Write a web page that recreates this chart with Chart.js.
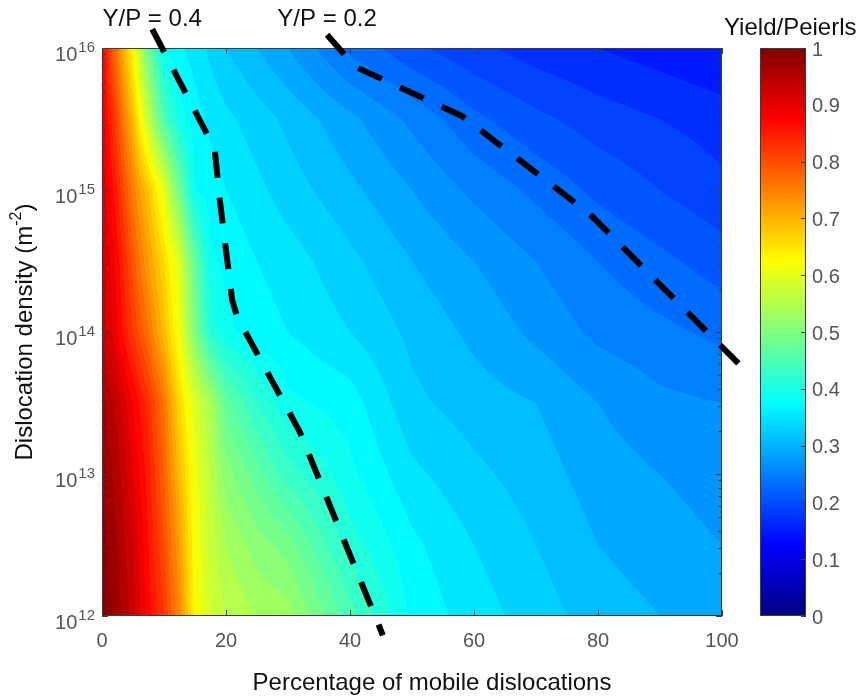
<!DOCTYPE html>
<html>
<head>
<meta charset="utf-8">
<script src="https://cdn.jsdelivr.net/npm/chart.js@4.4.1/dist/chart.umd.min.js"></script>
<style>
  html, body { margin: 0; padding: 0; background: #fff; }
  #wrap { width: 861px; height: 700px; }
</style>
</head>
<body>
<div id="wrap"><canvas id="contour" width="861" height="700"></canvas></div>
<script>
// grid columns: percentage of mobile dislocations
const percentMobile = [0, 2.5, 5, 7.5, 10, 12.5, 15, 17.5, 20, 25, 30, 40, 50, 60, 70, 80, 90, 100];
// grid rows: dislocation density (m^-2)
const densityRows = [1e12, 3.16e12, 1e13, 3.16e13, 1e14, 3.16e14, 1e15, 3.16e15, 1e16];

// Yield/Peierls ratio, one row per density
const ratioAt1e12   = [1.00, 0.97, 0.93, 0.87, 0.82, 0.74, 0.63, 0.58, 0.56, 0.54, 0.53, 0.45, 0.375, 0.35, 0.33, 0.31, 0.30, 0.295];
const ratioAt3e12   = [0.99, 0.96, 0.92, 0.86, 0.80, 0.72, 0.62, 0.57, 0.54, 0.51, 0.49, 0.41, 0.365, 0.34, 0.32, 0.30, 0.29, 0.28];
const ratioAt1e13   = [0.98, 0.95, 0.90, 0.85, 0.78, 0.69, 0.61, 0.56, 0.51, 0.47, 0.43, 0.385, 0.345, 0.325, 0.31, 0.29, 0.28, 0.27];
const ratioAt3e13   = [0.97, 0.93, 0.88, 0.83, 0.76, 0.66, 0.59, 0.54, 0.47, 0.42, 0.385, 0.37, 0.325, 0.31, 0.30, 0.28, 0.265, 0.26];
const ratioAt1e14   = [0.94, 0.88, 0.82, 0.76, 0.69, 0.61, 0.50, 0.41, 0.385, 0.37, 0.36, 0.34, 0.315, 0.295, 0.275, 0.255, 0.245, 0.235];
const ratioAt3e14   = [0.93, 0.87, 0.79, 0.72, 0.66, 0.59, 0.47, 0.385, 0.375, 0.36, 0.35, 0.325, 0.30, 0.28, 0.26, 0.24, 0.225, 0.21];
const ratioAt1e15   = [0.92, 0.84, 0.75, 0.68, 0.60, 0.48, 0.38, 0.37, 0.36, 0.345, 0.33, 0.305, 0.28, 0.255, 0.235, 0.215, 0.20, 0.185];
const ratioAt3e15   = [0.90, 0.80, 0.69, 0.56, 0.45, 0.39, 0.37, 0.355, 0.345, 0.33, 0.315, 0.285, 0.255, 0.225, 0.205, 0.19, 0.18, 0.17];
const ratioAt1e16   = [0.88, 0.75, 0.625, 0.48, 0.38, 0.365, 0.35, 0.335, 0.32, 0.30, 0.28, 0.235, 0.205, 0.185, 0.17, 0.16, 0.15, 0.14];
const ratioGrid = [ratioAt1e12, ratioAt3e12, ratioAt1e13, ratioAt3e13, ratioAt1e14,
                   ratioAt3e14, ratioAt1e15, ratioAt3e15, ratioAt1e16];

// hand-drawn iso lines
const lineY04X       = [8.1, 16.9, 18.2, 19.0, 21.0, 21.8, 31.9, 45.3];
const lineY04Density = [1.36e16, 2.5e15, 1.9e15, 8.5e14, 1.68e14, 1.28e14, 1.98e13, 7.3e11];
const lineY02X       = [36.3, 40.8, 58.1, 78.7, 104.2];
const lineY02Density = [1.24e16, 7.4e15, 3.31e15, 6.76e14, 5.13e13];

// tick labels
const xTicks = [0, 20, 40, 60, 80, 100];
const yDecades = [12, 13, 14, 15, 16];
const barTicks = [0, 0.1, 0.2, 0.3, 0.4, 0.5, 0.6, 0.7, 0.8, 0.9, 1];

const levelStep = 0.02;
const tickColor = '#555';
const frameColor = '#3c3c3c';
const fontFamily = '"Liberation Sans", Arial, sans-serif';

function jet(v) {
  const c = t => Math.max(0, Math.min(1, t));
  return [c(1.5 - Math.abs(4 * v - 3)), c(1.5 - Math.abs(4 * v - 2)), c(1.5 - Math.abs(4 * v - 1))];
}

function locate(arr, v) {
  let k = 0;
  while (k < arr.length - 2 && v > arr[k + 1]) k++;
  const t = Math.max(0, Math.min(1, (v - arr[k]) / (arr[k + 1] - arr[k])));
  return [k, t];
}

const contourPlugin = {
  id: 'contour',
  beforeDatasetsDraw(chart) {
    const { ctx, chartArea: a, scales: { x, y, cb } } = chart;
    const w = Math.round(a.right - a.left), h = Math.round(a.bottom - a.top);
    const off = document.createElement('canvas');
    off.width = w; off.height = h;
    const octx = off.getContext('2d');
    const img = octx.createImageData(w, h);
    const rowExp = densityRows.map(d => Math.log10(d));
    const cols = [];
    for (let i = 0; i < w; i++) cols.push(locate(percentMobile, x.getValueForPixel(a.left + i + 0.5)));
    for (let j = 0; j < h; j++) {
      const [r, tr] = locate(rowExp, Math.log10(y.getValueForPixel(a.top + j + 0.5)));
      const lo = ratioGrid[r], hi = ratioGrid[r + 1];
      for (let i = 0; i < w; i++) {
        const [k, tc] = cols[i];
        const v0 = lo[k] + (lo[k + 1] - lo[k]) * tc;
        const v1 = hi[k] + (hi[k + 1] - hi[k]) * tc;
        const v = v0 + (v1 - v0) * tr;
        const q = Math.min(1 - levelStep / 2, Math.floor(v / levelStep) * levelStep + levelStep / 2);
        const col = jet(q);
        const p = (j * w + i) * 4;
        img.data[p] = col[0] * 255; img.data[p + 1] = col[1] * 255; img.data[p + 2] = col[2] * 255; img.data[p + 3] = 255;
      }
    }
    octx.putImageData(img, 0, 0);
    ctx.drawImage(off, a.left, a.top);

    ctx.save();
    ctx.strokeStyle = frameColor;
    ctx.lineWidth = 1;
    ctx.strokeRect(a.left + 0.5, a.top + 0.5, w - 1, h - 1);
    ctx.beginPath();
    xTicks.forEach(v => {
      const px = Math.round(x.getPixelForValue(v)) + 0.5;
      ctx.moveTo(px, a.bottom); ctx.lineTo(px, a.bottom - 6);
      ctx.moveTo(px, a.top); ctx.lineTo(px, a.top + 6);
    });
    yDecades.forEach(d => {
      for (let m = 1; m <= 9; m++) {
        if (d === 16 && m > 1) break;
        const py = Math.round(y.getPixelForValue(m * Math.pow(10, d))) + 0.5;
        const len = m === 1 ? 6 : 3.5;
        ctx.moveTo(a.left, py); ctx.lineTo(a.left + len, py);
        ctx.moveTo(a.right, py); ctx.lineTo(a.right - len, py);
      }
    });
    ctx.stroke();

    // colorbar
    const barL = 760, barR = 806;
    const top = cb.getPixelForValue(1), bot = cb.getPixelForValue(0);
    const grad = ctx.createLinearGradient(0, bot, 0, top);
    for (let s = 0; s <= 40; s++) {
      const c = jet(s / 40);
      grad.addColorStop(s / 40, `rgb(${c[0] * 255},${c[1] * 255},${c[2] * 255})`);
    }
    ctx.fillStyle = grad;
    ctx.fillRect(barL, top, barR - barL, bot - top);
    ctx.strokeRect(barL + 0.5, top + 0.5, barR - barL - 1, bot - top - 1);
    ctx.beginPath();
    barTicks.forEach(v => {
      const py = Math.round(cb.getPixelForValue(v)) + 0.5;
      ctx.moveTo(barR, py); ctx.lineTo(barR - 5, py);
    });
    ctx.stroke();
    ctx.restore();
  },
  afterDraw(chart) {
    const { ctx, chartArea: a, scales: { x, y, cb } } = chart;
    ctx.save();
    // x tick labels
    ctx.fillStyle = tickColor;
    ctx.font = `20px ${fontFamily}`;
    ctx.textAlign = 'center';
    ctx.textBaseline = 'middle';
    xTicks.forEach(v => ctx.fillText(String(v), x.getPixelForValue(v), 641));
    // y tick labels 10^n
    yDecades.forEach(d => {
      const py = y.getPixelForValue(Math.pow(10, d));
      ctx.font = `15px ${fontFamily}`;
      const sup = String(d);
      const supW = ctx.measureText(sup).width;
      ctx.textAlign = 'right';
      ctx.fillText(sup, a.left - 7, py);
      ctx.font = `20px ${fontFamily}`;
      ctx.fillText('10', a.left - 8 - supW, py + 7);
    });
    // colorbar labels
    ctx.font = `20px ${fontFamily}`;
    ctx.textAlign = 'left';
    barTicks.forEach(v => ctx.fillText(String(v), 812, cb.getPixelForValue(v) + 2));

    // titles
    ctx.fillStyle = '#111';
    ctx.font = `24px ${fontFamily}`;
    ctx.textAlign = 'center';
    ctx.fillText('Percentage of mobile dislocations', 432, 683);
    ctx.textAlign = 'left';
    ctx.fillText('Yield/Peierls', 724, 28);
    ctx.textAlign = 'center';
    ctx.fillText('Y/P = 0.4', x.getPixelForValue(lineY04X[0]), 19);
    ctx.fillText('Y/P = 0.2', x.getPixelForValue(lineY02X[0]), 19);

    // rotated y title with superscript
    ctx.translate(25, (a.top + a.bottom) / 2);
    ctx.rotate(-Math.PI / 2);
    const t1 = 'Dislocation density (m', t2 = '-2', t3 = ')';
    ctx.font = `24px ${fontFamily}`;
    const w1 = ctx.measureText(t1).width, w3 = ctx.measureText(t3).width;
    ctx.font = `16px ${fontFamily}`;
    const w2 = ctx.measureText(t2).width;
    let cx = -(w1 + w2 + w3) / 2;
    ctx.textAlign = 'left';
    ctx.font = `24px ${fontFamily}`;
    ctx.fillText(t1, cx, 0); cx += w1;
    ctx.font = `16px ${fontFamily}`;
    ctx.fillText(t2, cx, -8); cx += w2;
    ctx.font = `24px ${fontFamily}`;
    ctx.fillText(t3, cx, 0);
    ctx.restore();
  }
};

const toPoints = (xs, ys) => xs.map((v, i) => ({ x: v, y: ys[i] }));

new Chart(document.getElementById('contour'), {
  type: 'scatter',
  data: {
    datasets: [
      {
        label: 'Y/P = 0.4',
        data: toPoints(lineY04X, lineY04Density),
        showLine: true, borderColor: '#000', borderWidth: 6,
        borderDash: [26, 20], pointRadius: 0, clip: false
      },
      {
        label: 'Y/P = 0.2',
        data: toPoints(lineY02X, lineY02Density),
        showLine: true, borderColor: '#000', borderWidth: 6,
        borderDash: [26, 20], pointRadius: 0, clip: false
      }
    ]
  },
  options: {
    responsive: false,
    animation: false,
    devicePixelRatio: 1,
    layout: { padding: { left: 102, right: 139, top: 48, bottom: 84 } },
    plugins: { legend: { display: false }, tooltip: { enabled: false } },
    scales: {
      x: { type: 'linear', min: 0, max: 100, display: false },
      y: { type: 'logarithmic', min: 1e12, max: 1e16, display: false },
      cb: { type: 'linear', axis: 'y', position: 'right', min: 0, max: 1, display: false }
    }
  },
  plugins: [contourPlugin]
});
</script>
</body>
</html>
